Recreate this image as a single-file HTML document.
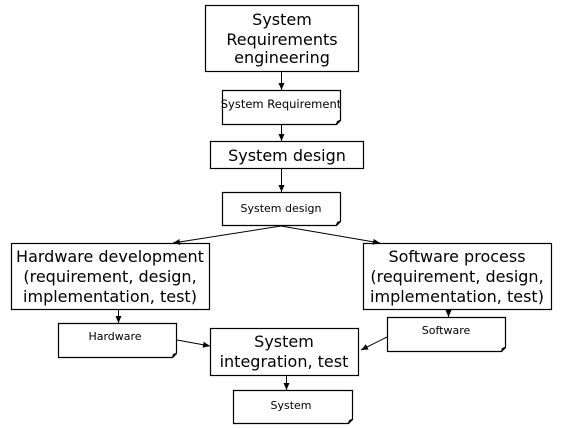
<!DOCTYPE html>
<html><head><style>body{margin:0;background:#fff}svg{display:block}</style></head>
<body>
<svg width="570" height="428" xmlns="http://www.w3.org/2000/svg" font-family="'DejaVu Sans','Liberation Sans',sans-serif" fill="none" stroke="#000">
<defs><marker id="a" markerWidth="8" markerHeight="8" refX="7" refY="4" orient="auto" markerUnits="userSpaceOnUse"><path d="M0,1 L7,4 L0,7 z" fill="#000" stroke="none"/></marker></defs>
<g stroke-width="1.2">
<rect x="205.5" y="5.5" width="153" height="66"/>
<path d="M222.5,90.5 H340.5 V120.5 L336.5,124.5 H222.5 Z"/><path d="M336.5,124.5 L337.5,121.5 L340.5,120.5"/>
<rect x="210.5" y="141.5" width="153" height="27"/>
<path d="M222.5,192.5 H340.5 V221.5 L336.5,225.5 H222.5 Z"/><path d="M336.5,225.5 L337.5,222.5 L340.5,221.5"/>
<rect x="11.5" y="243.5" width="198" height="66"/>
<rect x="363.5" y="243.5" width="188" height="66"/>
<path d="M58.5,323.5 H176.5 V353.5 L172.5,357.5 H58.5 Z"/><path d="M172.5,357.5 L173.5,354.5 L176.5,353.5"/>
<path d="M387.5,317.5 H505.5 V347.5 L501.5,351.5 H387.5 Z"/><path d="M501.5,351.5 L502.5,348.5 L505.5,347.5"/>
<rect x="210.5" y="328.5" width="148" height="47"/>
<path d="M233.5,390.5 H352.5 V419.5 L348.5,423.5 H233.5 Z"/><path d="M348.5,423.5 L349.5,420.5 L352.5,419.5"/>
</g>
<g stroke-width="1" marker-end="url(#a)">
<line x1="281.5" y1="72" x2="281.5" y2="90"/>
<line x1="281.5" y1="125" x2="281.5" y2="141"/>
<line x1="281.5" y1="169" x2="281.5" y2="192"/>
<line x1="281" y1="226" x2="173" y2="243"/>
<line x1="281" y1="226" x2="380" y2="243"/>
<line x1="118.5" y1="310" x2="118.5" y2="323"/>
<line x1="448.5" y1="310" x2="448.5" y2="317"/>
<line x1="177" y1="340" x2="210" y2="346"/>
<line x1="387" y1="337" x2="361" y2="350"/>
<line x1="286.5" y1="376" x2="286.5" y2="390"/>
</g>
<g fill="#000" stroke="none" text-anchor="middle">
<g font-size="16"><text x="282" y="25">System</text><text x="282" y="45">Requirements</text><text x="282" y="63">engineering</text>
<text x="287" y="161">System design</text>
<text x="110" y="262">Hardware development</text><text x="110" y="282">(requirement, design,</text><text x="110" y="302">implementation, test)</text>
<text x="457" y="262">Software process</text><text x="457" y="282">(requirement, design,</text><text x="457" y="302">implementation, test)</text>
<text x="284" y="347">System</text><text x="284" y="367">integration, test</text></g>
<g font-size="11.5"><text x="281" y="108">System Requirement</text></g>
<g font-size="11"><text x="281" y="212">System design</text><text x="115" y="340">Hardware</text><text x="446" y="334">Software</text><text x="291" y="409">System</text></g>
</g>
</svg>
</body></html>
